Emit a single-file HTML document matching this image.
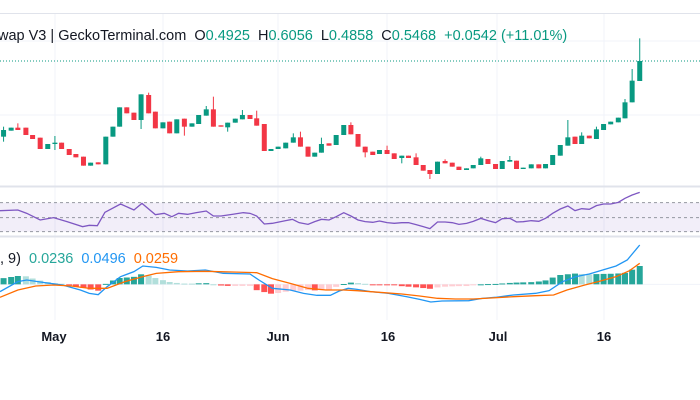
<!DOCTYPE html>
<html><head><meta charset="utf-8"><style>
body{margin:0;background:#fff;width:700px;height:400px;overflow:hidden;font-family:"Liberation Sans",sans-serif}
svg{position:absolute;left:0;top:0}
</style></head><body>
<svg id="s" width="700" height="400" xmlns="http://www.w3.org/2000/svg"></svg>
<script>
const s=document.getElementById('s');let h='';
const X=z=>z/2.24,Y=z=>z/3,G='#089981',R='#f23645';
// grid
[55,163,278,387,497,604].forEach(x=>h+=`<line x1="${x}" y1="13" x2="${x}" y2="320" stroke="#f0f3fa"/>`);
[41,115].forEach(y=>h+=`<line x1="0" y1="${y}" x2="700" y2="${y}" stroke="#f0f3fa"/>`);
h+=`<line x1="0" y1="13.5" x2="700" y2="13.5" stroke="#e0e3eb"/>`;
h+=`<line x1="0" y1="186.5" x2="700" y2="186.5" stroke="#e0e3eb" stroke-width="2"/>`;
h+=`<line x1="0" y1="236.5" x2="700" y2="236.5" stroke="#e0e3eb" stroke-width="2"/>`;
h+=`<line x1="0" y1="61" x2="700" y2="61" stroke="${G}" stroke-dasharray="1 2"/>`;
// candles [zx, open, close, wickTop, wickBot]  g/r
const C=[[8,'g',390,410,380,425],[25,'g',383,392],[40,'r',383,390,370],[58,'r',383,405],[73,'r',405,417],[90,'r',413,447],[107,'g',432,447],[123,'g',428,432,408,450],[138,'r',428,447],[155,'r',447,465],[170,'r',462,472],[187,'r',470,497],[203,'g',488,497],[220,'r',487,493],[237,'g',410,493],[253,'g',380,410],[268,'g',322,380],[284,'r',322,340],[300,'r',338,360],[316,'g',283,360,283,387],[333,'r',285,340,278],[348,'r',335,385],[365,'g',367,385],[380,'r',365,400],[396,'g',358,400],[413,'r',356,380,356,407],[430,'g',370,380],[445,'g',345,372],[462,'g',328,347,318],[478,'r',328,380,290],[495,'r',376,380],[510,'g',368,382,368,395],[527,'g',356,368],[543,'g',345,358,330],[560,'r',345,357],[575,'r',355,377,332],[592,'r',372,453],[607,'g',447,453],[623,'g',440,447],[640,'g',428,445],[657,'g',412,428,400],[673,'r',412,440,395],[690,'r',440,470],[705,'g',458,470],[720,'g',432,458,413],[737,'r',430,437],[753,'g',405,435],[770,'g',375,405],[786,'r',375,403,367],[802,'r',402,440],[818,'r',440,457,440,472],[835,'r',455,465],[850,'g',450,462],[867,'r',450,462,437],[883,'r',460,477],[900,'g',467,474,467,490],[915,'r',467,474],[932,'r',472,495,460],[948,'r',495,512],[963,'r',510,522,510,537],[980,'g',485,522],[997,'r',483,490,478],[1013,'r',488,500],[1028,'r',500,510],[1045,'g',505,510],[1060,'g',495,505],[1077,'g',475,495,470],[1093,'r',477,492],[1110,'r',492,507],[1125,'g',483,507],[1142,'g',480,485,468],[1157,'r',482,507],[1172,'g',503,507],[1190,'g',493,505],[1207,'r',493,505],[1222,'g',492,505],[1238,'g',465,495],[1255,'g',435,467],[1272,'g',412,437,360],[1288,'r',410,432],[1303,'g',407,432,397],[1320,'r',407,415],[1336,'g',388,417,380],[1352,'g',372,390],[1368,'g',365,373],[1385,'g',353,367],[1400,'g',307,355,297],[1416,'g',242,307,207],[1433,'g',183,243,115]];
C.forEach(c=>{const x=X(c[0]),col=c[1]=='g'?G:R;const t=Y(c[2]),b=Y(c[3]);const wt=Y(c[4]??c[2]),wb=Y(c[5]??c[3]);
h+=`<line x1="${x}" y1="${wt}" x2="${x}" y2="${wb}" stroke="${col}"/>`;
h+=`<rect x="${x-2.5}" y="${t}" width="5" height="${Math.max(1,b-t)}" fill="${col}"/>`;});
// RSI
const oy=180;
h+=`<rect x="0" y="${oy+68/3}" width="700" height="${87/3}" fill="#7e57c2" fill-opacity="0.1"/>`;
[68,113,155].forEach(z=>h+=`<line x1="0" y1="${oy+z/3}" x2="700" y2="${oy+z/3}" stroke="#9598a1" stroke-dasharray="3 3"/>`);
const rsi=[[0,92],[40,90],[60,100],[90,120],[120,113],[150,125],[185,140],[200,136],[218,137],[235,97],[270,72],[300,90],[318,70],[348,104],[368,100],[385,110],[400,100],[420,103],[440,98],[462,93],[478,108],[495,108],[520,103],[545,98],[560,100],[575,108],[592,132],[610,130],[640,122],[655,118],[670,128],[690,133],[705,125],[720,118],[737,120],[753,110],[770,98],[786,108],[802,120],[818,125],[835,127],[850,123],[867,128],[883,130],[900,128],[915,128],[932,134],[948,140],[963,146],[980,126],[997,126],[1013,128],[1028,133],[1045,130],[1060,124],[1077,115],[1093,122],[1110,128],[1125,116],[1142,115],[1157,126],[1172,125],[1190,122],[1207,124],[1222,115],[1238,100],[1255,87],[1272,78],[1288,92],[1303,86],[1320,88],[1336,77],[1352,72],[1368,72],[1385,67],[1400,55],[1416,45],[1433,37]];
const pl=(a,c)=>`<polyline fill="none" stroke="${c}" stroke-width="1.3" points="${a.map(p=>X(p[0])+','+(oy+p[1]/3)).join(' ')}"/>`;
h+=pl(rsi,'#7e57c2');
// MACD
const blue=[[0,335],[40,305],[60,300],[100,308],[140,315],[180,330],[200,340],[220,344],[240,320],[270,290],[300,275],[320,258],[350,262],[380,270],[420,273],[460,270],[500,280],[560,282],[580,300],[610,325],[650,330],[680,340],[710,346],[740,346],[760,333],[780,325],[800,328],[830,335],[870,340],[910,350],[940,358],[965,366],[990,363],[1050,362],[1080,355],[1110,352],[1150,345],[1200,340],[1230,332],[1260,305],[1290,290],[1320,282],[1350,270],[1380,258],[1405,240],[1433,195]];
const orng=[[0,352],[40,330],[80,318],[120,315],[160,318],[200,325],[240,325],[280,305],[320,290],[350,280],[400,275],[460,274],[520,276],[575,278],[610,296],[650,310],[690,325],[730,330],[770,330],[800,332],[850,337],[900,342],[940,348],[980,355],[1020,357],[1060,357],[1100,354],[1150,350],[1200,347],[1240,345],[1270,330],[1310,315],[1340,305],[1380,290],[1410,272],[1433,250]];
const it=(a,x)=>{for(let i=1;i<a.length;i++)if(x<=a[i][0]){const p=a[i-1],q=a[i];return p[1]+(q[1]-p[1])*(x-p[0])/(q[0]-p[0]);}return a[a.length-1][1];};
h+=`<line x1="0" y1="${oy+313/3}" x2="700" y2="${oy+313/3}" stroke="#f0f3fa"/>`;
let prev=null;
C.forEach(c=>{const d=(it(orng,c[0])-it(blue,c[0]));let col;
if(d>=0)col=(prev===null||d>=prev)?'#26a69a':'#b2dfdb';else col=(prev===null||d<=prev)?'#ff5252':'#ffcdd2';prev=d;
const zy=313,hh=d/3,x=X(c[0]);
h+=`<rect x="${x-3}" y="${oy+(hh>0?zy/3-hh:zy/3)}" width="6" height="${Math.max(1,Math.abs(hh))}" fill="${col}"/>`;});
h+=pl(blue,'#2196f3')+pl(orng,'#ff6d00');
// text
h+=`<text x="-2" y="40" font-size="14.5" fill="#131722">wap V3 | GeckoTerminal.com <tspan dx="4">O</tspan><tspan fill="${G}">0.4925</tspan><tspan dx="8">H</tspan><tspan fill="${G}">0.6056</tspan><tspan dx="8">L</tspan><tspan fill="${G}">0.4858</tspan><tspan dx="8">C</tspan><tspan fill="${G}">0.5468</tspan><tspan dx="8" fill="${G}">+0.0542 (+11.01%)</tspan></text>`;
h+=`<text x="0" y="263" font-size="14.5" fill="#131722">, 9) <tspan dx="4" fill="#26a69a">0.0236</tspan><tspan dx="8" fill="#2196f3">0.0496</tspan><tspan dx="8" fill="#ff6d00">0.0259</tspan></text>`;
[['May',54],['16',163],['Jun',278],['16',388],['Jul',498],['16',604]].forEach(t=>h+=`<text x="${t[1]}" y="341" font-size="13" font-weight="bold" fill="#131722" text-anchor="middle">${t[0]}</text>`);
s.innerHTML=h;
</script>
</body></html>
